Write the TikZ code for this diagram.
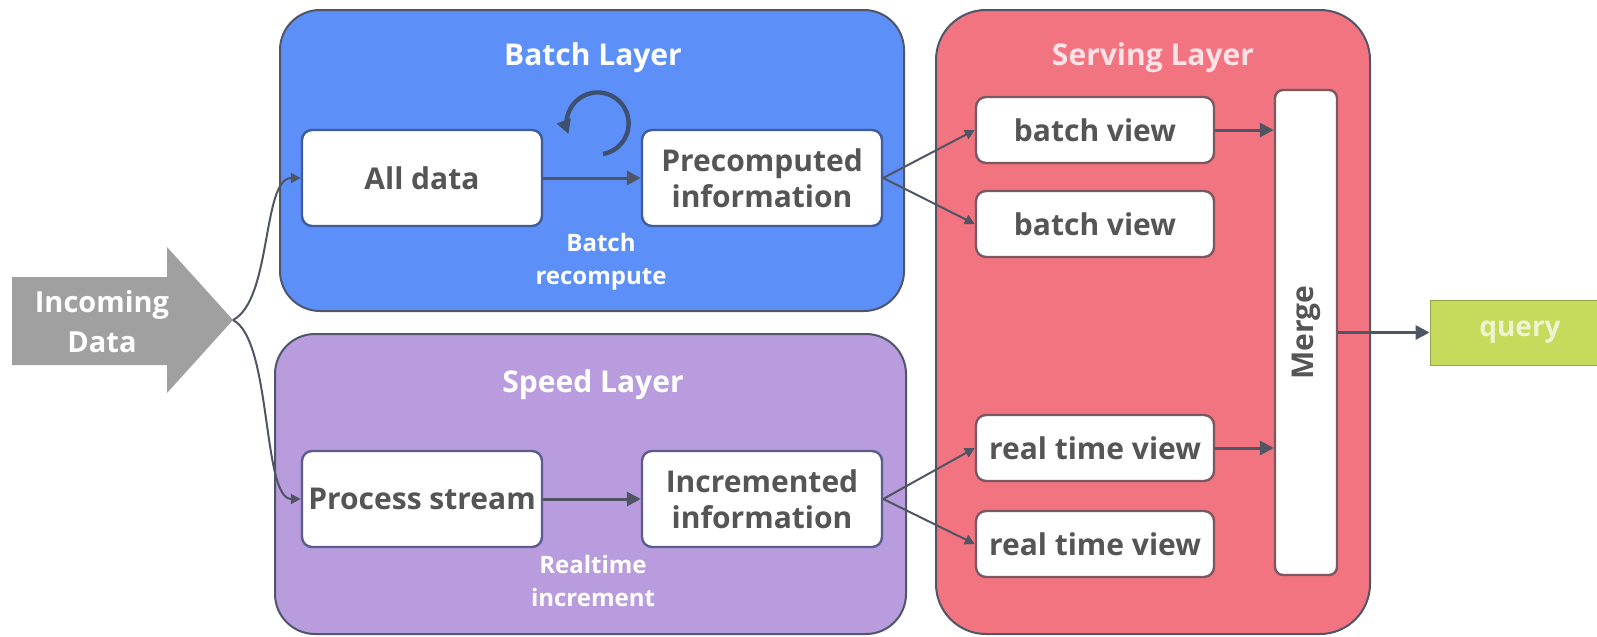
\documentclass[tikz,border=0pt]{standalone}
\usepackage{fontspec}
\setmainfont{Open Sans}
\usetikzlibrary{arrows.meta,positioning}
\definecolor{batchblue}{HTML}{5C8FF8}
\definecolor{speedpurple}{HTML}{B89CDE}
\definecolor{servingred}{HTML}{F27480}
\definecolor{querygreen}{HTML}{C6DA5C}
\definecolor{incomgray}{HTML}{A0A0A0}
\definecolor{layerline}{HTML}{4E5668}
\definecolor{batchline}{HTML}{3F5C9A}
\definecolor{speedline}{HTML}{5A5C8E}
\definecolor{servline}{HTML}{7A5862}
\definecolor{boxtext}{HTML}{555555}
\definecolor{arrowgray}{HTML}{4F5563}
\definecolor{loopblue}{HTML}{3E5070}
\definecolor{servingtext}{HTML}{FDE2E6}
\definecolor{querytext}{HTML}{EEF4D2}
\begin{document}
\begin{tikzpicture}[x=0.5pt, y=-0.5pt,
        layer/.style={rectangle, draw=layerline, line width=1pt, rounded corners=20pt},
        block/.style={rectangle, draw, fill=white, line width=1.2pt, rounded corners=5pt, text=boxtext, font=\bfseries\fontsize{15}{18}\selectfont, align=center, minimum width=120pt, minimum height=48pt, inner sep=2pt},
        view/.style={block, minimum width=119pt, minimum height=33pt},
        title/.style={text=white, font=\bfseries\fontsize{15}{18}\selectfont},
        note/.style={text=white, font=\bfseries\fontsize{12}{16.5}\selectfont, align=center},
        line/.style={draw=arrowgray, -{Triangle[length=7pt,width=7pt]}, line width=1.5pt},
        thinline/.style={draw=arrowgray, -{Triangle[length=5pt,width=5pt]}, line width=1pt}]
    \useasboundingbox (0,0) rectangle (1597,637);

    % layers
    \node [layer, fill=batchblue, minimum width=312pt, minimum height=150.5pt] (batch) at (592,160.5) {};
    \node [layer, fill=speedpurple, minimum width=315.5pt, minimum height=150pt] (speed) at (590.5,484) {};
    \node [layer, fill=servingred, minimum width=217pt, minimum height=312pt, rounded corners=25pt] (serving) at (1153,322) {};

    \node [title] (batchtitle) at (593,58) {Batch Layer};
    \node [title] (speedtitle) at (593,385) {Speed Layer};
    \node [title, text=servingtext] (servingtitle) at (1153,58) {Serving Layer};

    % incoming data
    \fill [incomgray] (12,277) -- (167,277) -- (167,247) -- (233,320) -- (167,393) -- (167,365) -- (12,365) -- cycle;
    \node [title, align=center, font=\bfseries\fontsize{14.5}{20}\selectfont] (incoming) at (102,322) {Incoming\\Data};
    \coordinate (split) at (233,320);

    % batch and speed blocks
    \node [block, draw=batchline] (alldata) at (422,178) {All data};
    \node [block, draw=batchline, right of=alldata, node distance=170pt] (precomp) {Precomputed\\information};
    \node [block, draw=speedline] (process) at (422,499) {Process stream};
    \node [block, draw=speedline, right of=process, node distance=170pt] (incr) {Incremented\\information};

    \node [note] (recompute) at (601,262) {Batch\\recompute};
    \node [note] (increment) at (593,581) {Realtime\\increment};

    % serving views
    \node [view, draw=servline] (bview1) at (1095,130) {batch view};
    \node [view, draw=servline, below of=bview1, node distance=47pt] (bview2) {batch view};
    \node [view, draw=servline] (rview1) at (1095,448) {real time view};
    \node [view, draw=servline, below of=rview1, node distance=48pt] (rview2) {real time view};
    \node [block, draw=servline, minimum width=31pt, minimum height=242.5pt, rounded corners=4pt] (merge) at (1306,332.5) {\rotatebox{90}{Merge}};

    \node [rectangle, draw=querygreen!75!black, fill=querygreen, text=querytext, font=\bfseries\fontsize{14}{18}\selectfont, minimum width=90pt, minimum height=32.5pt] (query) at (1520,332.5) {query};

    % connectors
    \path [thinline] (split) .. controls (272,300) and (262,178) .. (alldata.west);
    \path [thinline] (split) .. controls (272,340) and (262,499) .. (process.west);

    \path [line] (alldata) -- (precomp);
    \coordinate (loopstart) at (603,154);
    \draw [line, draw=loopblue, line width=2.2pt] (loopstart) arc [start angle=80, end angle=-200, radius=31];
    \path [line] (process) -- (incr);

    \path [thinline] (precomp.east) -- (bview1.west);
    \path [thinline] (precomp.east) -- (bview2.west);
    \path [thinline] (incr.east) -- (rview1.west);
    \path [thinline] (incr.east) -- (rview2.west);

    \path [line] (bview1) -- (bview1 -| merge.west);
    \path [line] (rview1) -- (rview1 -| merge.west);
    \path [line] (merge) -- (query);
\end{tikzpicture}
\end{document}
